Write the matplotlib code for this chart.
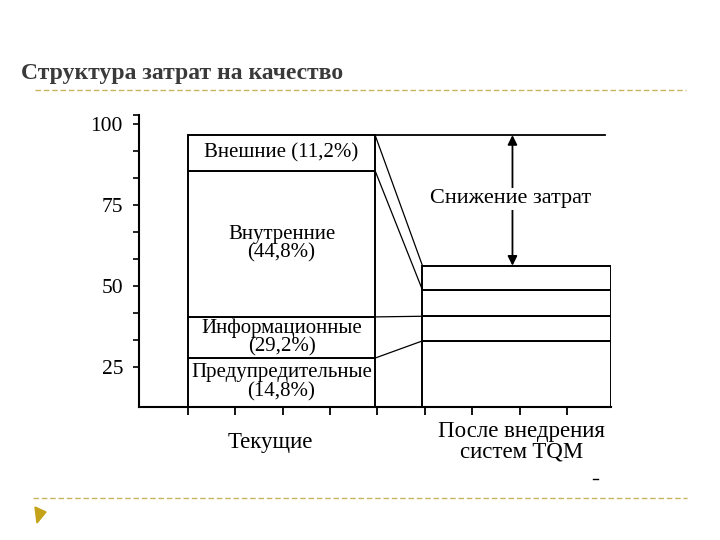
"""Структура затрат на качество: текущие затраты и после внедрения TQM."""

import matplotlib

matplotlib.use("Agg")

import matplotlib.pyplot as plt
import numpy as np
from matplotlib.lines import Line2D
from matplotlib.patches import Polygon

plt.rcParams["font.family"] = ["Liberation Serif", "DejaVu Serif"]

# values (axis units, ticks 25..100)
y_floor = 12.7
y_top = 102.8
segment_labels = [
    "Предупредительные\n(14,8%)",
    "Информационные\n(29,2%)",
    "Внутренние\n(44,8%)",
    "Внешние (11,2%)",
]
current_levels = [27.8, 40.5, 85.6, 96.6]   # cumulative tops, current costs
after_levels = [33.1, 40.7, 48.8, 56.3]     # cumulative tops, after TQM
category_labels = ["Текущие", "После внедрения\nсистем TQM"]
y_major = [25, 50, 75, 100]
y_minor = [33.3, 41.7, 58.3, 66.7, 83.3, 91.7, 102.8]
reduction_label = "Снижение затрат"

bar_left = [0.0, 4.95]
bar_width = [3.95, 3.97]
label_x = [1.73, 7.04]
arrow_x = 6.85

fig = plt.figure(figsize=(7.2, 5.4), dpi=100)
fig.patch.set_facecolor("white")

# slide decoration
fig.text(21 / 720, 1 - 79 / 540, "Структура затрат на качество", fontsize=17,
         fontweight="bold", color="#3a3a3a", ha="left", va="baseline")
gold = "#c9b55e"
fig.add_artist(Line2D([35 / 720, 686 / 720], [1 - 90 / 540] * 2, color=gold,
                      lw=1.0, ls=(0, (4, 2))))
fig.add_artist(Line2D([33 / 720, 687 / 720], [1 - 498 / 540] * 2, color=gold,
                      lw=1.0, ls=(0, (4, 2))))
tri = np.array([[35, 507], [46, 512], [37, 523]], dtype=float)
tri[:, 0] /= 720
tri[:, 1] = 1 - tri[:, 1] / 540
fig.add_artist(Polygon(tri, closed=True, color="#c4a21a", transform=fig.transFigure))
fig.add_artist(Line2D([593 / 720, 598 / 720], [1 - 479 / 540] * 2, color="black", lw=1.0))

ax = fig.add_axes([139 / 720, 1 - 407 / 540, (611 - 139) / 720, (407 - 115) / 540])
ax.set_xlim(-1.034, 8.93)
ax.set_ylim(y_floor, y_top)
for side in ("top", "right"):
    ax.spines[side].set_visible(False)
for side in ("left", "bottom"):
    ax.spines[side].set_linewidth(1.5)

# stacked bars
for left, width, levels in [(bar_left[0], bar_width[0], current_levels),
                            (bar_left[1], bar_width[1], after_levels)]:
    bottoms = [y_floor] + levels[:-1]
    heights = np.diff([y_floor] + levels)
    ax.bar([left] * len(levels), heights, bottom=bottoms, width=width, align="edge",
           facecolor="white", edgecolor="black", linewidth=1.4, zorder=2)

# segment labels inside the current bar
cur_center = bar_left[0] + bar_width[0] / 2
bottoms = [y_floor] + current_levels[:-1]
for label, lo, hi in zip(segment_labels, bottoms, current_levels):
    ax.text(cur_center, (lo + hi) / 2, label, ha="center", va="center",
            fontsize=15, linespacing=1.0, zorder=3)

# connecting lines between bars
cur_right = bar_left[0] + bar_width[0]
for a, b in zip(current_levels, after_levels):
    ax.plot([cur_right, bar_left[1]], [a, b], color="black", lw=0.9, zorder=1)
ax.plot([cur_right, 8.8], [current_levels[-1]] * 2, color="black", lw=1.3, zorder=1)

# cost reduction arrow
ax.annotate("", xy=(arrow_x, after_levels[-1]), xytext=(arrow_x, current_levels[-1]),
            arrowprops=dict(arrowstyle="<|-|>", color="black", lw=1.3,
                            shrinkA=0, shrinkB=0, mutation_scale=14), zorder=3)
ax.text(arrow_x - 0.05, 76.9, reduction_label, ha="center", va="center", fontsize=16,
        bbox=dict(facecolor="white", edgecolor="none", pad=1), zorder=4)

# axes ticks
ax.set_yticks(y_major)
ax.set_yticklabels([str(v) for v in y_major], fontsize=15.5)
ax.set_yticks(y_minor, minor=True)
ax.tick_params(axis="y", which="both", direction="out", length=4.5, width=1.2, pad=7)
ax.set_xticks(range(9))
ax.set_xticklabels([])
ax.tick_params(axis="x", direction="out", length=6, width=1.3)

for x, label in zip(label_x, category_labels):
    ax.text(x, -0.12, label, transform=ax.get_xaxis_transform(), ha="center",
            va="center", fontsize=16.5, linespacing=0.95)

fig.savefig("out.png", dpi=100)
